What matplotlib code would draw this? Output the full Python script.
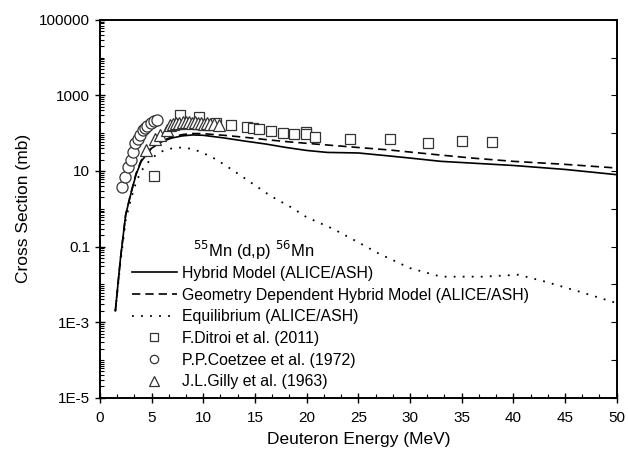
import matplotlib
matplotlib.use("Agg")
import matplotlib.pyplot as plt
from matplotlib.ticker import FixedLocator, FixedFormatter, MultipleLocator, LogLocator, NullFormatter
import numpy as np

plt.rcParams['font.family'] = ['Liberation Sans', 'DejaVu Sans']

# Hybrid Model (ALICE/ASH)
hyb_e = [1.5, 2.0, 2.5, 3.0, 3.5, 4.0, 5.0, 6.0, 7.0, 8.0, 9.0, 10.0, 12.0, 14.0, 16.0,
         18.0, 20.0, 22.0, 25.0, 28.0, 30.0, 33.0, 37.0, 40.0, 45.0, 50.0]
hyb_s = [0.002, 0.05, 0.7, 2.5, 8, 18, 40, 60, 75, 85, 90, 88, 75, 62, 52,
         42, 35, 31, 30, 25, 22, 18, 15.6, 14, 11, 8]

# Geometry Dependent Hybrid Model (ALICE/ASH)
gdh_e = [1.5, 2.0, 2.5, 3.0, 3.5, 4.0, 5.0, 6.0, 7.0, 8.0, 9.0, 10.0, 12.0, 14.0, 16.0,
         18.0, 20.0, 24.0, 28.0, 32.0, 36.0, 40.0, 45.0, 50.0]
gdh_s = [0.002, 0.05, 0.7, 2.6, 8.5, 19, 42, 63, 80, 92, 98, 97, 88, 78, 68,
         60, 54, 44, 36, 28, 22, 18, 15, 12]

# Equilibrium (ALICE/ASH)
eq_e = [1.5, 2.0, 2.5, 3.0, 3.5, 4.0, 5.0, 6.0, 7.0, 8.0, 9.0, 10.0, 11.0, 12.0, 13.5,
        15.0, 16.5, 18.5, 20.0, 22.5, 25.0, 27.0, 30.0, 33.0, 37.0, 40.5, 43.0, 46.5, 50.0]
eq_s = [0.002, 0.04, 0.5, 1.8, 5, 10, 22, 33, 40, 42, 38, 30, 22, 15, 8,
        4.2, 2.2, 1.1, 0.6, 0.3, 0.13, 0.065, 0.027, 0.016, 0.016, 0.018, 0.012, 0.0063, 0.0032]

# F.Ditroi et al. (2011)
dit_e = [5.2, 7.8, 9.6, 11.2, 12.7, 14.2, 14.8, 15.4, 16.6, 17.7, 18.8, 19.9, 19.9, 20.8,
         24.2, 28.1, 31.7, 35.0, 37.9]
dit_s = [7.2, 300, 275, 183, 162, 148, 134, 126, 115, 104, 95, 110, 95, 80,
         72, 69, 56, 63, 58]

# P.P.Coetzee et al. (1972)
coe_e = [2.1, 2.4, 2.7, 3.0, 3.2, 3.4, 3.7, 3.9, 4.2, 4.4, 4.6, 4.9, 5.2, 5.5]
coe_s = [3.7, 6.9, 12.7, 20, 32, 55, 70, 89, 120, 135, 154, 186, 209, 222]

# J.L.Gilly et al. (1963)
gil_e = [4.5, 5.3, 5.8, 6.5, 6.8, 7.1, 7.4, 7.7, 8.0, 8.3, 8.6, 8.9, 9.2, 9.5, 9.8,
         10.1, 10.4, 10.7, 11.0, 11.5]
gil_s = [35, 72, 89, 120, 160, 175, 185, 190, 195, 200, 195, 190, 195, 185, 190,
         180, 185, 175, 170, 160]

ytick_vals = [1e-5, 1e-3, 1e-1, 1e1, 1e3, 1e5]
ytick_labels = ['1E-5', '1E-3', '0.1', '10', '1000', '100000']

fig = plt.figure(figsize=(6.28, 4.5), dpi=100)
ax = fig.add_axes([0.159, 0.116, 0.823, 0.84])

ax.plot(hyb_e, hyb_s, color='black', lw=1.2, ls='-', label='Hybrid Model (ALICE/ASH)')
ax.plot(gdh_e, gdh_s, color='black', lw=1.2, ls=(0, (5, 3)),
        label='Geometry Dependent Hybrid Model (ALICE/ASH)')
ax.plot(eq_e, eq_s, color='black', lw=1.3, ls=(0, (1, 4)), label='Equilibrium (ALICE/ASH)')
ax.plot(dit_e, dit_s, ls='none', marker='s', ms=7, mfc='white', mec='#333333', mew=0.9,
        label='F.Ditroi et al. (2011)')
ax.plot(coe_e, coe_s, ls='none', marker='o', ms=8, mfc='white', mec='#333333', mew=0.9,
        label='P.P.Coetzee et al. (1972)')
ax.plot(gil_e, gil_s, ls='none', marker='^', ms=9, mfc='white', mec='#333333', mew=0.9,
        label='J.L.Gilly et al. (1963)')

ax.set_yscale('log')
ax.set_xlim(0, 50)
ax.set_ylim(1e-5, 1e5)

ax.xaxis.set_major_locator(MultipleLocator(5))
ax.xaxis.set_minor_locator(MultipleLocator(5 / 3))
ax.yaxis.set_major_locator(FixedLocator(ytick_vals))
ax.yaxis.set_major_formatter(FixedFormatter(ytick_labels))
ax.yaxis.set_minor_locator(LogLocator(base=10, subs=np.arange(1, 10), numticks=30))
ax.yaxis.set_minor_formatter(NullFormatter())

ax.tick_params(axis='both', which='major', direction='inout', length=7, width=1,
               labelsize=11, top=False, right=False)
ax.tick_params(axis='x', which='major', pad=6)
ax.tick_params(axis='both', which='minor', direction='in', length=3, width=0.8,
               top=False, right=False)

# right-hand axis with a tick per decade
axr = ax.twinx()
axr.set_yscale('log')
axr.set_ylim(1e-5, 1e5)
axr.yaxis.set_major_locator(LogLocator(base=10, numticks=20))
axr.yaxis.set_minor_locator(FixedLocator([]))
axr.tick_params(axis='y', direction='in', length=4, labelright=False)

for a in (ax, axr):
    for sp in a.spines.values():
        sp.set_linewidth(1.2)

ax.set_xlabel('Deuteron Energy (MeV)', fontsize=12.5, labelpad=5)
ax.set_ylabel('Cross Section (mb)', fontsize=12.5, labelpad=6)

leg = ax.legend(loc='lower left', bbox_to_anchor=(0.034, -0.015), frameon=False,
                fontsize=11.4, handlelength=2.85, handletextpad=0.3, labelspacing=0.42,
                markerscale=0.75)

ax.text(0.18, 0.39, '$^{55}$Mn (d,p) $^{56}$Mn', transform=ax.transAxes,
        fontsize=12, ha='left', va='center')

fig.savefig('out.png', dpi=100)
